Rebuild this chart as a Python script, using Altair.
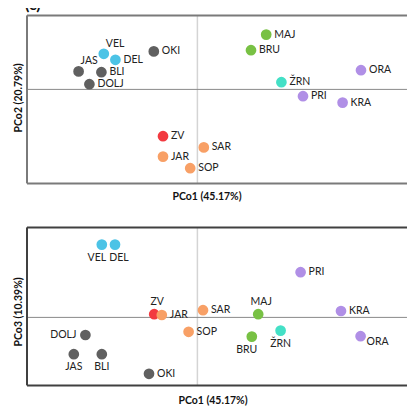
import altair as alt
import pandas as pd

# ---- data ----
sites = ["JAS", "BLI", "DOLJ", "OKI", "VEL", "DEL", "ZV", "JAR", "SOP", "SAR",
         "MAJ", "BRU", "ŽRN", "PRI", "KRA", "ORA"]
cluster = ["C1", "C1", "C1", "C1", "C2", "C2", "C3", "C4", "C4", "C4",
           "C5", "C5", "C6", "C7", "C7", "C7"]
# panel 1: PCo1 vs PCo2
pco1_a = [-0.297, -0.240, -0.270, -0.109, -0.234, -0.205, -0.086, -0.086, -0.018, 0.016,
          0.172, 0.134, 0.210, 0.264, 0.363, 0.409]
pco2 = [0.045, 0.043, 0.013, 0.095, 0.089, 0.074, -0.117, -0.168, -0.197, -0.145,
        0.137, 0.098, 0.018, -0.017, -0.033, 0.048]
# panel 2: PCo1 vs PCo3
pco1_b = [-0.309, -0.239, -0.280, -0.121, -0.239, -0.206, -0.108, -0.089, -0.022, 0.014,
          0.152, 0.136, 0.208, 0.258, 0.359, 0.408]
pco3 = [-0.092, -0.092, -0.044, -0.141, 0.182, 0.182, 0.008, 0.006, -0.036, 0.018,
        0.008, -0.048, -0.033, 0.113, 0.016, -0.047]
# label placement (categorical)
place_a = ["ar", "r", "r", "r", "ar", "r", "r", "r", "r", "r",
           "r", "r", "r", "r", "r", "r"]
place_b = ["b", "b", "l", "r", "bl", "br", "a", "r", "r", "r",
           "a", "bl", "b", "r", "r", "rb"]

cluster_domain = ["C1", "C2", "C3", "C4", "C5", "C6", "C7"]
cluster_colors = ["#606060", "#4cc3e6", "#f23a40", "#f8a066", "#78c144", "#44e0c6", "#b08fe6"]

df = pd.DataFrame({"site": sites, "cluster": cluster, "x1": pco1_a, "y1": pco2,
                   "x2": pco1_b, "y2": pco3, "p1": place_a, "p2": place_b})

FONT = "Lato"
placements = {
    "r": dict(align="left", dx=8, dy=0),
    "l": dict(align="right", dx=-9, dy=0),
    "a": dict(align="center", dx=3, dy=-12),
    "b": dict(align="center", dx=0, dy=13),
    "bl": dict(align="center", dx=-5, dy=13),
    "br": dict(align="center", dx=4, dy=13),
    "ar": dict(align="left", dx=2, dy=-10),
    "rb": dict(align="left", dx=6, dy=6),
}

W = 380
XDOM = [-0.426, 0.524]


def panel(xc, yc, pc, ydom, height, xtitle, ytitle, tx, ty, xpad, frame, extra=None):
    base = alt.Chart(df)
    xenc = alt.X(f"{xc}:Q", scale=alt.Scale(domain=XDOM, nice=False, zero=False),
                 axis=alt.Axis(title=xtitle, labels=False, ticks=False, domain=False, grid=False,
                               titleX=tx, titlePadding=xpad))
    yenc = alt.Y(f"{yc}:Q", scale=alt.Scale(domain=ydom, nice=False, zero=False),
                 axis=alt.Axis(title=ytitle, labels=False, ticks=False, domain=False, grid=False,
                               titleY=ty, titlePadding=4))
    one = pd.DataFrame({"k": [0]})
    frame_top = alt.Chart(one).mark_rule(color=frame, strokeWidth=2).encode(
        x=alt.value(0), x2=alt.value(W), y=alt.value(0))
    frame_bot = alt.Chart(one).mark_rule(color=frame, strokeWidth=2).encode(
        x=alt.value(0), x2=alt.value(W), y=alt.value(height))
    frame_left = alt.Chart(one).mark_rule(color=frame, strokeWidth=2).encode(
        x=alt.value(0), y=alt.value(0), y2=alt.value(height))
    vline = alt.Chart(one).mark_rule(color="#d4d4d4", strokeWidth=1.5).encode(x=alt.datum(0))
    hline = alt.Chart(one).mark_rule(color="#8a8a8a", strokeWidth=1).encode(y=alt.datum(0))
    pts = base.mark_circle(size=115, opacity=1).encode(
        x=xenc, y=yenc,
        color=alt.Color("cluster:N", scale=alt.Scale(domain=cluster_domain, range=cluster_colors),
                        legend=None))
    layers = [vline, hline, frame_top, frame_bot, frame_left, pts]
    for key, kw in placements.items():
        layers.append(
            base.transform_filter(alt.datum[pc] == key)
            .mark_text(font=FONT, fontSize=10.5, baseline="middle", color="#222222", **kw)
            .encode(x=alt.X(f"{xc}:Q"), y=alt.Y(f"{yc}:Q"), text="site:N"))
    if extra is not None:
        layers.append(extra)
    return alt.layer(*layers).properties(width=W, height=height)


label_c = alt.Chart(pd.DataFrame({"t": ["(c)"]})).mark_text(
    font=FONT, fontSize=16, fontWeight="bold", align="left", baseline="alphabetic", color="#111111"
).encode(x=alt.value(-2), y=alt.value(-5), text="t:N")

top = panel("x1", "y1", "p1", [-0.235, 0.185], 168, "PCo1 (45.17%)", "PCo2 (20.79%)",
            179.5, 82, 8, "#7a7a7a", extra=label_c)
bottom = panel("x2", "y2", "p2", [-0.17, 0.225], 158, "PCo1 (45.17%)", "PCo3 (10.39%)",
               185.5, 84, 10, "#404040")

chart = alt.vconcat(top, bottom, spacing=24).properties(
    padding={"top": -10.6, "left": 5, "right": 0, "bottom": 0}
).configure_axis(
    titleFont=FONT, titleFontSize=10.5, titleFontWeight="bold", titleColor="#111111"
).configure_view(stroke=None)

chart.save("out.html", embed_options={"renderer": "svg", "actions": False})
